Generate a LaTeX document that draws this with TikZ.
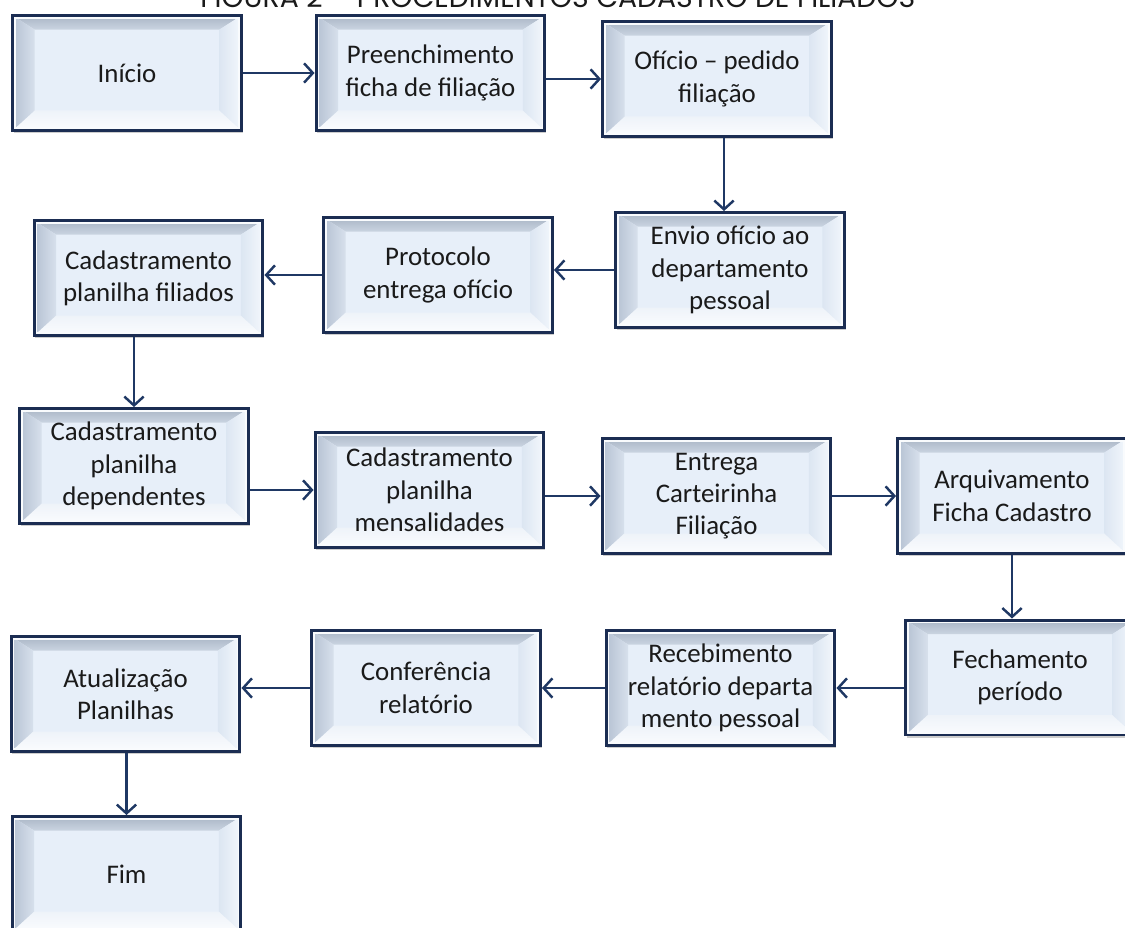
\documentclass[tikz,border=0pt]{standalone}
\usepackage{fontspec}
\setmainfont{Carlito}
\newfontfamily\titlefont{Poppins}
\usetikzlibrary{arrows.meta,shadows,calc}
\definecolor{navy}{HTML}{1B2D52}
\definecolor{arrowc}{HTML}{1F3864}
\definecolor{faceC}{HTML}{E7EFF9}
\definecolor{topA}{HTML}{A9B5C5}
\definecolor{topB}{HTML}{CAD4E1}
\definecolor{leftA}{HTML}{B5C1D2}
\definecolor{leftB}{HTML}{D7E0EC}
\definecolor{rightA}{HTML}{DCE6F2}
\definecolor{rightB}{HTML}{F3F7FC}
\definecolor{botA}{HTML}{EEF3F9}
\definecolor{botB}{HTML}{FBFCFE}
\definecolor{txt}{HTML}{1A1A1A}
\newcommand\mybevel{%
  \coordinate (bNW) at (path picture bounding box.north west);
  \coordinate (bNE) at (path picture bounding box.north east);
  \coordinate (bSW) at (path picture bounding box.south west);
  \coordinate (bSE) at (path picture bounding box.south east);
  \shade[top color=topA,bottom color=topB] (bNW) -- (bNE) -- ($(bNE)+(-0.44cm,-0.28cm)$) -- ($(bNW)+(0.44cm,-0.28cm)$) -- cycle;
  \shade[top color=botA,bottom color=botB] (bSW) -- (bSE) -- ($(bSE)+(-0.44cm,0.40cm)$) -- ($(bSW)+(0.44cm,0.40cm)$) -- cycle;
  \shade[left color=leftA,right color=leftB] (bNW) -- ($(bNW)+(0.44cm,-0.28cm)$) -- ($(bSW)+(0.44cm,0.40cm)$) -- (bSW) -- cycle;
  \shade[left color=rightA,right color=rightB] (bNE) -- ($(bNE)+(-0.44cm,-0.28cm)$) -- ($(bSE)+(-0.44cm,0.40cm)$) -- (bSE) -- cycle;
  \draw[white!75!faceC, line width=0.8pt] ($(bNW)+(1.5pt,-1.5pt)$) rectangle ($(bSE)+(-1.5pt,1.5pt)$);
}
\tikzset{
  bevbox/.style={rectangle, draw=navy, line width=1.7pt, fill=faceC,
    minimum width=4.58cm, minimum height=2.30cm, inner sep=0pt, align=center,
    text=txt, font=\fontsize{15.3}{18.4}\selectfont, path picture={\mybevel},
    drop shadow={shadow xshift=0.6pt, shadow yshift=-1.6pt, opacity=0.28, fill=black!70}},
  arr/.style={draw=arrowc, line width=1.4pt, -{Straight Barb[length=5pt,width=11pt]}}
}
\begin{document}
\begin{tikzpicture}[x=0.02cm, y=-0.02cm]
\useasboundingbox (0,0) rectangle (1125,927);
\clip (0,0) rectangle (1125,927);
\node[anchor=base west, inner sep=0pt, font=\titlefont, text=txt] (title) at (200,7.5)
  {\resizebox{14.3cm}{!}{FIGURA 2 – PROCEDIMENTOS CADASTRO DE FILIADOS}};
% row 1
\node[bevbox] (ini) at (127,73) {Início};
\node[bevbox] (pre) at (430.5,73) {Preenchimento\\ficha de filiação};
\node[bevbox] (ofi) at (717,79) {Ofício – pedido\\filiação};
% row 2
\node[bevbox] (env) at (730,270) {Envio ofício ao\\departamento\\pessoal};
\node[bevbox] (pro) at (438,275) {Protocolo\\entrega ofício};
\node[bevbox] (cfi) at (148.5,278) {Cadastramento\\planilha filiados};
% row 3
\node[bevbox] (dep) at (134,466) {Cadastramento\\planilha\\dependentes};
\node[bevbox] (men) at (429.5,490) {Cadastramento\\planilha\\mensalidades};
\node[bevbox] (ent) at (716.5,496) {Entrega\\Carteirinha\\Filiação};
\node[bevbox] (arq) at (1012,496) {Arquivamento\\Ficha Cadastro};
% row 4
\node[bevbox] (fec) at (1020,677.5) {Fechamento\\período};
\node[bevbox] (rec) at (720.5,688) {Recebimento\\relatório departa\\mento pessoal};
\node[bevbox] (con) at (426,688) {Conferência\\relatório};
\node[bevbox] (atu) at (125.5,694) {Atualização\\Planilhas};
% row 5
\node[bevbox] (fim) at (126.5,874) {Fim};
% connectors
\coordinate (ofiout) at ($(ofi.south)+(7,0)$);
\coordinate (envin) at (ofiout |- env.north);
\draw[arr] (ini.east) -- (pre.west);
\draw[arr] (pre.east |- ofi.west) -- (ofi.west);
\draw[arr] (ofiout) -- (envin);
\draw[arr] (env.west) -- (env.west -| pro.east);
\draw[arr] (pro.west) -- (pro.west -| cfi.east);
\draw[arr] (cfi.south -| dep.north) -- (dep.north);
\draw[arr] (dep.east |- men.west) -- (men.west);
\draw[arr] (men.east |- ent.west) -- (ent.west);
\draw[arr] (ent.east) -- (ent.east -| arq.west);
\draw[arr] (arq.south) -- (arq.south |- fec.north);
\draw[arr] (fec.west |- rec.east) -- (rec.east);
\draw[arr] (rec.west) -- (con.east);
\draw[arr] (con.west) -- (con.west -| atu.east);
\draw[arr] (atu.south -| fim.north) -- (fim.north);
\end{tikzpicture}
\end{document}
